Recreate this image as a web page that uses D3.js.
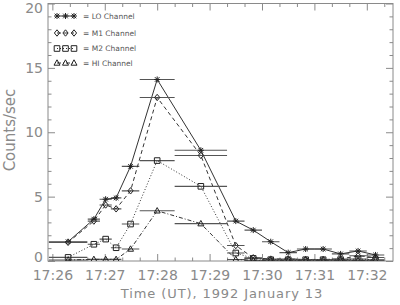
<!DOCTYPE html>
<html>
<head>
<meta charset="utf-8">
<script src="https://cdnjs.cloudflare.com/ajax/libs/d3/7.8.5/d3.min.js"></script>
<style>
    body { margin: 0; background: #fff; }
    text { font-family: "DejaVu Sans", sans-serif; }
</style>
</head>
<body>
<div id="chart"></div>
<script>

// bin centres, seconds after 17:26:00, and bin half widths
let times = [18, 47.5, 61, 73, 89.5, 120, 170, 210, 230, 250, 270, 290, 310, 330, 350, 370]
let halfWidths = [22, 7, 7, 6, 10, 20, 30, 10, 10, 10, 10, 10, 10, 10, 10, 10]

let loCounts = [1.5, 3.25, 4.8, 4.9, 7.35, 14.1, 8.6, 3.1, 2.4, 1.5, 0.65, 0.93, 0.93, 0.55, 0.78, 0.47]
let m1Counts = [1.45, 3.1, 4.35, 4.05, 5.45, 12.7, 8.2, 1.2, 0.25, 0.15, 0.15, 0.12, 0.12, 0.15, 0.41, 0.27]
let m2Counts = [0.28, 1.3, 1.7, 1.03, 2.87, 7.8, 5.8, 0.62, 0.2, 0.1, 0.1, 0.1, 0.1, 0.1, 0.15, 0.1]
let hiCounts = [0.08, 0.13, 0.13, 0.13, 0.93, 3.9, 2.9, 0.12, 0.05, 0.05, 0.05, 0.05, 0.05, 0.05, 0.05, 0.05]

let channelNames = ['LO Channel', 'M1 Channel', 'M2 Channel', 'HI Channel']

let xMajor = [0, 60, 120, 180, 240, 300, 360]
let yMajor = [0, 5, 10, 15, 20]

let width = 400,
    height = 305

let svg = d3.select('#chart').append('svg')
    .attr('width', width)
    .attr('height', height)

let x = d3.scaleLinear().domain([-5, 390]).range([48, 393])
let y = d3.scaleLinear().domain([0, 20]).range([261, 3.5])

let axisColor = '#8a8a8a'
let inkColor = '#333'

let xMinor = d3.range(0, 390, 20).filter(function(d){ return d % 60 != 0 })
let yMinor = d3.range(0, 21, 1).filter(function(d){ return d % 5 != 0 })

// frame + ticks on all four sides, ticks pointing inward
function tickAxis(axis, values, size, tx, ty, labels){
    let g = svg.append('g')
        .attr('transform', 'translate(' + tx + ',' + ty + ')')
        .attr('color', axisColor)
        .call(axis.tickValues(values).tickSize(-size).tickFormat(labels || ''))
    g.select('.domain').remove()
    return g
}

let bottom = tickAxis(d3.axisBottom(x).tickPadding(9), xMajor, 7, 0, 261, function(d){
    return '17:' + (26 + d / 60)
})
tickAxis(d3.axisBottom(x), xMinor, 3.5, 0, 261)
tickAxis(d3.axisTop(x), xMajor, 7, 0, 3.5)
tickAxis(d3.axisTop(x), xMinor, 3.5, 0, 3.5)

let left = tickAxis(d3.axisLeft(y).tickPadding(5), yMajor, 7, 48, 0, function(d){ return d })
tickAxis(d3.axisLeft(y), yMinor, 3.5, 48, 0)
tickAxis(d3.axisRight(y), yMajor, 7, 393, 0)
tickAxis(d3.axisRight(y), yMinor, 3.5, 393, 0)

bottom.selectAll('text').attr('font-size', 14).attr('fill', axisColor).style('font-family', '"DejaVu Sans", sans-serif')
left.selectAll('text').attr('font-size', 14).attr('fill', axisColor).style('font-family', '"DejaVu Sans", sans-serif')

// end labels sit inside the frame like the original
left.selectAll('.tick text')
    .attr('y', function(d){
        if(d == 0) return -4
        if(d == 20) return 5
        return 0
    })

svg.append('rect')
    .attr('x', x.range()[0])
    .attr('y', y.range()[1])
    .attr('width', x.range()[1] - x.range()[0])
    .attr('height', y.range()[0] - y.range()[1])
    .attr('fill', 'none')
    .attr('stroke', axisColor)

svg.append('text')
    .attr('transform', 'translate(15,130) rotate(-90)')
    .attr('text-anchor', 'middle')
    .attr('font-size', 15)
    .attr('fill', axisColor)
    .text('Counts/sec')

svg.append('text')
    .attr('x', 222)
    .attr('y', 298)
    .attr('text-anchor', 'middle')
    .attr('font-size', 13)
    .attr('letter-spacing', 0.9)
    .attr('fill', axisColor)
    .text('Time (UT), 1992 January 13')

// plot symbols, IDL style
function drawSymbol(g, type, cx, cy){
    let p
    if(type == 'asterisk'){
        p = 'M' + (cx - 3) + ',' + cy + 'H' + (cx + 3) +
            'M' + cx + ',' + (cy - 3) + 'V' + (cy + 3) +
            'M' + (cx - 2.3) + ',' + (cy - 2.3) + 'L' + (cx + 2.3) + ',' + (cy + 2.3) +
            'M' + (cx - 2.3) + ',' + (cy + 2.3) + 'L' + (cx + 2.3) + ',' + (cy - 2.3)
    }
    else if(type == 'diamond'){
        p = 'M' + cx + ',' + (cy - 3.2) + 'L' + (cx + 2.6) + ',' + cy +
            'L' + cx + ',' + (cy + 3.2) + 'L' + (cx - 2.6) + ',' + cy + 'Z'
    }
    else if(type == 'square'){
        p = 'M' + (cx - 2.8) + ',' + (cy - 2.8) + 'h5.6v5.6h-5.6Z'
    }
    else {
        p = 'M' + cx + ',' + (cy - 3.2) + 'L' + (cx + 3) + ',' + (cy + 2.2) +
            'L' + (cx - 3) + ',' + (cy + 2.2) + 'Z'
    }
    g.append('path')
        .attr('d', p)
        .attr('fill', type == 'asterisk' ? inkColor : 'none')
        .attr('stroke', '#222')
        .attr('stroke-width', 1)
}

let series = [loCounts, m1Counts, m2Counts, hiCounts]
let symbols = ['asterisk', 'diamond', 'square', 'triangle']
let dashes = [null, '4,3', '1,2', '4,2,1,2']

svg.append('clipPath')
    .attr('id', 'plot-clip')
    .append('rect')
    .attr('x', 48).attr('y', 3.5)
    .attr('width', 345).attr('height', 257.5)

let plot = svg.append('g').attr('clip-path', 'url(#plot-clip)')

let line = d3.line()
    .x(function(d){ return x(d.t) })
    .y(function(d){ return y(d.v) })

series.forEach(function(values, k){

    let pts = values.map(function(v, i){
        return {t: times[i], hw: halfWidths[i], v: v}
    })

    // horizontal bars = bin width
    plot.selectAll('bar' + k)
        .data(pts)
        .enter()
        .append('line')
        .attr('x1', function(d){ return x(d.t - d.hw) })
        .attr('x2', function(d){ return x(d.t + d.hw) })
        .attr('y1', function(d){ return y(d.v) })
        .attr('y2', function(d){ return y(d.v) })
        .attr('stroke', '#555')
        .attr('stroke-width', 1.1)

    plot.append('path')
        .datum(pts)
        .attr('d', line)
        .attr('fill', 'none')
        .attr('stroke', inkColor)
        .attr('stroke-width', 1)
        .attr('stroke-dasharray', dashes[k])

    let marks = plot.append('g')
    pts.forEach(function(d){
        drawSymbol(marks, symbols[k], x(d.t), y(d.v))
    })
})

////////////////  legend

let legend = svg.append('g')
let legendX = [57, 65.5, 74]

channelNames.forEach(function(name, k){

    let ly = [16, 33, 48.5, 63][k]

    legend.append('line')
        .attr('x1', legendX[0]).attr('x2', legendX[2])
        .attr('y1', ly).attr('y2', ly)
        .attr('stroke', inkColor)
        .attr('stroke-dasharray', dashes[k])

    legendX.forEach(function(lx){
        drawSymbol(legend, symbols[k], lx, ly)
    })

    legend.append('text')
        .attr('x', 83)
        .attr('y', ly + 2.7)
        .attr('font-size', 7.5)
        .attr('fill', '#555')
        .text('= ' + name)
})

</script>
</body>
</html>
